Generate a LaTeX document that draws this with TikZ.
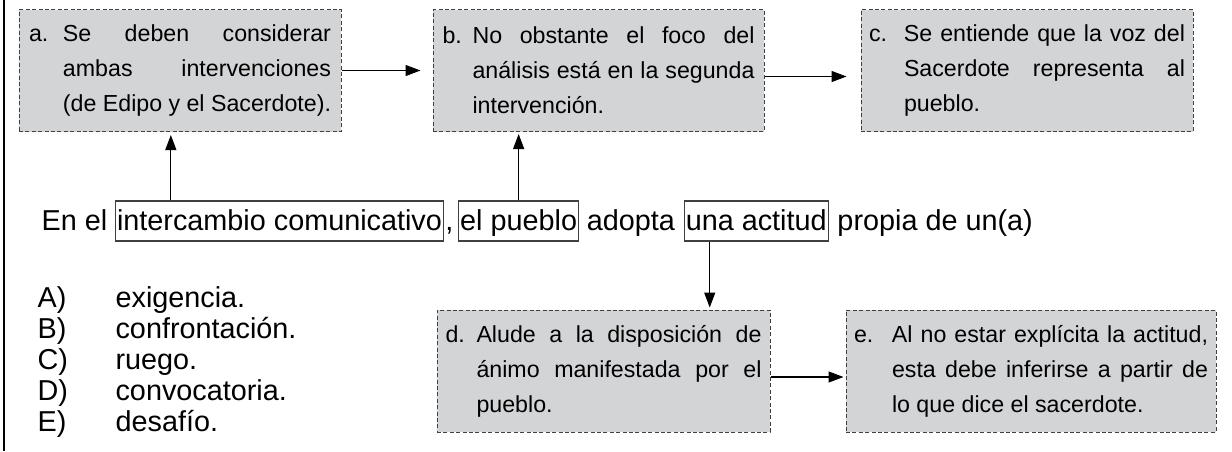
\documentclass[tikz,border=0pt]{standalone}
\usepackage{fontspec}
\setmainfont{Liberation Sans}
\usetikzlibrary{calc,positioning}
\usetikzlibrary{arrows.meta}

\definecolor{boxgray}{RGB}{211,212,214}
\newcommand{\hangtext}[3]{\hangindent=#1\hangafter=1\noindent\makebox[#1][l]{#2}#3\par}

\begin{document}
\begin{tikzpicture}[%
    x=0.5pt, y=-0.5pt,
    text=black,
    line width=0.6pt,
    >={Triangle[length=7.5pt,width=5.5pt]},
    note/.style={rectangle, draw=black!75, fill=boxgray, line width=0.5pt,
      dash pattern=on 2pt off 1.2pt, minimum height=61pt, inner xsep=4pt,
      align=justify, font=\fontsize{11.6pt}{17.5pt}\selectfont},
    txt/.style={inner xsep=0pt, inner ysep=1pt, text height=13.5pt,
      text depth=4.5pt, font=\fontsize{14.4pt}{17pt}\selectfont},
    word/.style={txt, draw=black!75, inner xsep=0.8pt},
    opt/.style={inner sep=0pt, text height=10.5pt, text depth=4.5pt,
      font=\fontsize{14.4pt}{15pt}\selectfont}]

  \useasboundingbox (0,0) rectangle (1232,451);
  \draw[line width=0.8pt] (4,0) -- (4,451);

  % --- upper notes ----------------------

  \node (BA) [note, text width=151pt, minimum width=161pt] at (180,70.5)
        {\hangtext{17pt}{a.}{Se deben considerar\linebreak ambas intervenciones\linebreak
         (de Edipo y el Sacerdote).}};

  \node (BB) [note, right=45.5pt of BA, text width=156pt, minimum width=165.5pt]
        {\hangtext{15pt}{b.}{No obstante el foco del\linebreak an\'alisis est\'a en la segunda\linebreak
         intervenci\'on.}};

  \node (BC) [note, right=48pt of BB, text width=158pt, minimum width=166pt]
        {\hangtext{17.5pt}{c.}{Se entiende que la voz del\linebreak Sacerdote representa al\linebreak
         pueblo.}};

  \draw[->, shorten >=6pt] (BA) -- (BB);
  \draw[->, shorten >=7pt] ([yshift=-3pt]BB.east) -- ([yshift=-3pt]BC.west);

  % --- sentence ----------------------

  \node (EN) [txt, anchor=west] at (41,221) {En el};
  \node (W1) [word, right=3.5pt of EN] {intercambio comunicativo};
  \node (CM) [txt, right=0.3pt of W1] {,};
  \node (W2) [word, right=2pt of CM] {el pueblo};
  \node (ADP) [txt, right=3.5pt of W2] {adopta};
  \node (W3) [word, right=4pt of ADP] {una actitud};
  \node (PRO) [txt, right=4pt of W3] {propia de un(a)};

  \coordinate (U1) at ($(W1.north west)!0.17!(W1.north east)$);
  \draw[->, shorten >=1.5pt] (U1) -- (U1 |- BA.south);
  \draw[->, shorten >=1pt] (W2) -- (W2 |- BB.south);

  % --- lower notes ----------------------

  \node (BD) [note, text width=158pt, minimum width=166.5pt] at (603.5,371)
        {\hangtext{15.5pt}{d.}{Alude a la disposici\'on de\linebreak \'animo manifestada por el\linebreak
         pueblo.}};

  \node (BE) [note, right=37.5pt of BD, text width=177pt, minimum width=181pt]
        {\hangtext{19pt}{e.}{Al no estar expl\'icita la actitud,\linebreak esta debe inferirse a partir de\linebreak
         lo que dice el sacerdote.}};

  \coordinate (U3) at ($(W3.south west)!0.18!(W3.south east)$);
  \draw[->, shorten >=1pt] (U3) -- (U3 |- BD.north);
  \draw[->, shorten >=1pt] ([yshift=-3pt]BD.east) -- ([yshift=-3pt]BE.west);

  % --- options ----------------------

  \node (OA) [opt, anchor=west] at (37,301) {\makebox[39pt][l]{A)}exigencia.};
  \node (OB) [opt, below=0pt of OA.south west, anchor=north west]
        {\makebox[39pt][l]{B)}confrontaci\'on.};
  \node (OC) [opt, below=0pt of OB.south west, anchor=north west]
        {\makebox[39pt][l]{C)}ruego.};
  \node (OD) [opt, below=0pt of OC.south west, anchor=north west]
        {\makebox[39pt][l]{D)}convocatoria.};
  \node (OE) [opt, below=0pt of OD.south west, anchor=north west]
        {\makebox[39pt][l]{E)}desaf\'io.};
\end{tikzpicture}
\end{document}
